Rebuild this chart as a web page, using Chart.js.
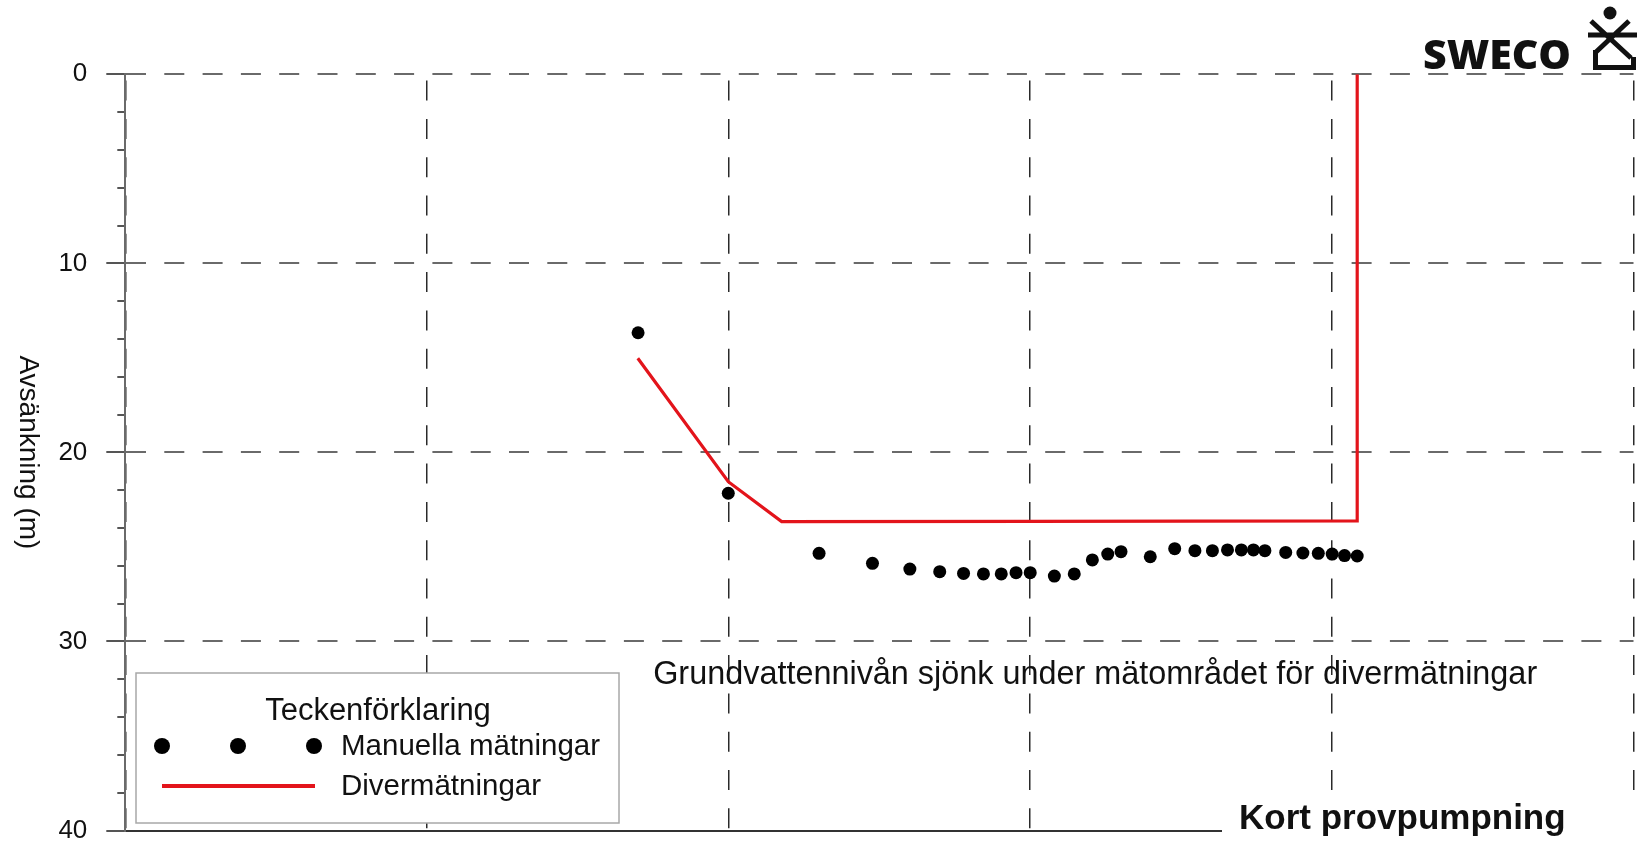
<!DOCTYPE html>
<html>
<head>
<meta charset="utf-8">
<script src="https://cdn.jsdelivr.net/npm/chart.js@4.4.1/dist/chart.umd.min.js"></script>
<style>
  html, body { margin: 0; padding: 0; background: #fff; }
  #wrap { position: relative; width: 1640px; height: 842px; }
  canvas { display: block; }
</style>
</head>
<body>
<div id="wrap"><canvas id="c" width="1640" height="842"></canvas></div>
<script>
// ---------- data ----------
const manualX = [1.700, 1.999, 2.300, 2.477, 2.601, 2.700, 2.779, 2.845, 2.904, 2.953, 3.000, 3.080, 3.146, 3.206, 3.257, 3.301, 3.398, 3.479, 3.546, 3.604, 3.654, 3.700, 3.740, 3.778, 3.847, 3.904, 3.955, 4.001, 4.042, 4.084];
const manualY = [13.67, 22.16, 25.34, 25.87, 26.17, 26.31, 26.40, 26.43, 26.43, 26.36, 26.36, 26.54, 26.43, 25.69, 25.38, 25.25, 25.52, 25.09, 25.20, 25.20, 25.16, 25.16, 25.16, 25.20, 25.29, 25.32, 25.34, 25.38, 25.46, 25.48];
const diverX = [1.699, 1.999, 2.176, 3.000, 4.084, 4.084];
const diverY = [15.02, 21.55, 23.66, 23.65, 23.62, 0];
const yTickLabels = [0, 10, 20, 30, 40];
const yMinorStep = 2;
const xGridMin = 0, xGridMax = 5, xGridStep = 1;
const yTitle = 'Avsänkning (m)';
const legendTitle = 'Teckenförklaring';
const seriesNames = ['Manuella mätningar', 'Divermätningar'];
const noteText = 'Grundvattennivån sjönk under mätområdet för divermätningar';
const notePos = { x: 1.75, y: 31.79 };
const footerText = 'Kort provpumpning';
const logoText = 'SWECO';

const RED = '#e3141b';
const FONT = '"Liberation Sans", Arial, sans-serif';

const manualData = manualX.map((x, i) => ({ x, y: manualY[i] }));
const diverData = diverX.map((x, i) => ({ x, y: diverY[i] }));

const deco = {
  id: 'deco',
  afterDatasetsDraw(chart) {
    const ctx = chart.ctx;
    const xs = chart.scales.x, ys = chart.scales.y;
    ctx.save();
    ctx.font = '32.4px ' + FONT;
    ctx.fillStyle = '#111';
    ctx.textAlign = 'left';
    ctx.textBaseline = 'middle';
    ctx.fillText(noteText, xs.getPixelForValue(notePos.x), ys.getPixelForValue(notePos.y));
    ctx.restore();
  },
  afterDraw(chart) {
    const ctx = chart.ctx;
    const ca = chart.chartArea;
    // y-axis title (reads top to bottom)
    ctx.save();
    ctx.translate(28, (ca.top + ca.bottom) / 2);
    ctx.rotate(Math.PI / 2);
    ctx.font = '28px ' + FONT;
    ctx.fillStyle = '#111';
    ctx.textAlign = 'center';
    ctx.textBaseline = 'middle';
    ctx.fillText(yTitle, 0, 0);
    ctx.restore();

    // legend box
    ctx.save();
    ctx.fillStyle = '#fff';
    ctx.fillRect(136, 673, 483, 150);
    ctx.strokeStyle = '#a8a8a8';
    ctx.lineWidth = 1.5;
    ctx.strokeRect(136, 673, 483, 150);
    ctx.fillStyle = '#111';
    ctx.font = '31px ' + FONT;
    ctx.textAlign = 'center';
    ctx.textBaseline = 'middle';
    ctx.fillText(legendTitle, 378, 711);
    ctx.textAlign = 'left';
    ctx.font = '29.5px ' + FONT;
    ctx.fillText(seriesNames[0], 341, 747);
    ctx.fillText(seriesNames[1], 341, 787);
    ctx.fillStyle = '#000';
    [162, 238, 314].forEach(px => {
      ctx.beginPath(); ctx.arc(px, 746, 8, 0, Math.PI * 2); ctx.fill();
    });
    ctx.strokeStyle = RED;
    ctx.lineWidth = 4;
    ctx.beginPath(); ctx.moveTo(162, 786); ctx.lineTo(315, 786); ctx.stroke();
    ctx.restore();

    // footer label
    ctx.save();
    ctx.fillStyle = '#fff';
    ctx.fillRect(1222, 797, 420, 45);
    ctx.fillStyle = '#111';
    ctx.font = 'bold 35px ' + FONT;
    ctx.textAlign = 'left';
    ctx.textBaseline = 'alphabetic';
    ctx.fillText(footerText, 1239, 829);
    ctx.restore();

    // logo
    ctx.save();
    ctx.fillStyle = '#fff';
    ctx.fillRect(1418, 36, 222, 36);
    ctx.fillStyle = '#111';
    ctx.font = '800 41px "Open Sans", sans-serif';
    ctx.textAlign = 'left';
    ctx.textBaseline = 'alphabetic';
    ctx.fillText(logoText, 1423, 69);
    ctx.strokeStyle = '#111';
    ctx.lineWidth = 5;
    ctx.lineCap = 'butt';
    ctx.beginPath();
    ctx.arc(1610, 13, 6.5, 0, Math.PI * 2);
    ctx.fill();
    ctx.beginPath();
    ctx.moveTo(1591, 21); ctx.lineTo(1631, 58);
    ctx.moveTo(1629, 21); ctx.lineTo(1596, 52);
    ctx.moveTo(1588, 35); ctx.lineTo(1637, 35);
    ctx.stroke();
    ctx.beginPath();
    ctx.moveTo(1595.5, 50); ctx.lineTo(1595.5, 67.5); ctx.lineTo(1633.5, 67.5); ctx.lineTo(1633.5, 57);
    ctx.stroke();
    ctx.restore();
  }
};

new Chart(document.getElementById('c'), {
  type: 'scatter',
  data: {
    datasets: [
      {
        label: seriesNames[0],
        data: manualData,
        showLine: false,
        pointRadius: 6.5,
        pointHoverRadius: 6.5,
        pointBackgroundColor: '#000',
        pointBorderWidth: 0,
        borderColor: '#000'
      },
      {
        label: seriesNames[1],
        data: diverData,
        showLine: true,
        borderColor: RED,
        borderWidth: 3.2,
        pointRadius: 0,
        tension: 0,
        fill: false
      }
    ]
  },
  options: {
    responsive: false,
    animation: false,
    devicePixelRatio: 1,
    layout: { padding: { top: 74.3, right: 1, bottom: 0, left: 0 } },
    plugins: { legend: { display: false }, tooltip: { enabled: false }, title: { display: false } },
    scales: {
      x: {
        type: 'linear',
        position: 'bottom',
        min: xGridMin, max: xGridMax,
        ticks: { display: false, stepSize: xGridStep },
        grid: { color: '#2a2a2a', lineWidth: 1.5, drawTicks: false },
        border: { display: true, color: '#333', width: 2, dash: [20, 18.3], dashOffset: 32 },
        afterFit: s => { s.height = 11.5; s.paddingLeft = 0; s.paddingRight = 0; }
      },
      y: {
        type: 'linear',
        reverse: true,
        min: yTickLabels[0], max: yTickLabels[yTickLabels.length - 1],
        ticks: {
          stepSize: yMinorStep,
          autoSkip: false,
          padding: 19,
          color: '#111',
          font: { family: FONT, size: 26 },
          callback: v => yTickLabels.includes(v) ? String(v) : ''
        },
        grid: {
          color: c => (c.tick && yTickLabels.includes(c.tick.value)) ? '#6a6a6a' : 'rgba(0,0,0,0)',
          lineWidth: 2,
          tickLength: 19,
          tickColor: '#555',
          tickWidth: 2,
          tickBorderDash: c => (c.tick && yTickLabels.includes(c.tick.value)) ? [] : [0, 11, 8, 1000]
        },
        border: { display: true, color: '#6a6a6a', width: 2, dash: [20, 18.3] },
        afterFit: s => { s.width = 125.3; s.paddingTop = 0; s.paddingBottom = 0; }
      }
    }
  },
  plugins: [deco]
});
</script>
</body>
</html>
